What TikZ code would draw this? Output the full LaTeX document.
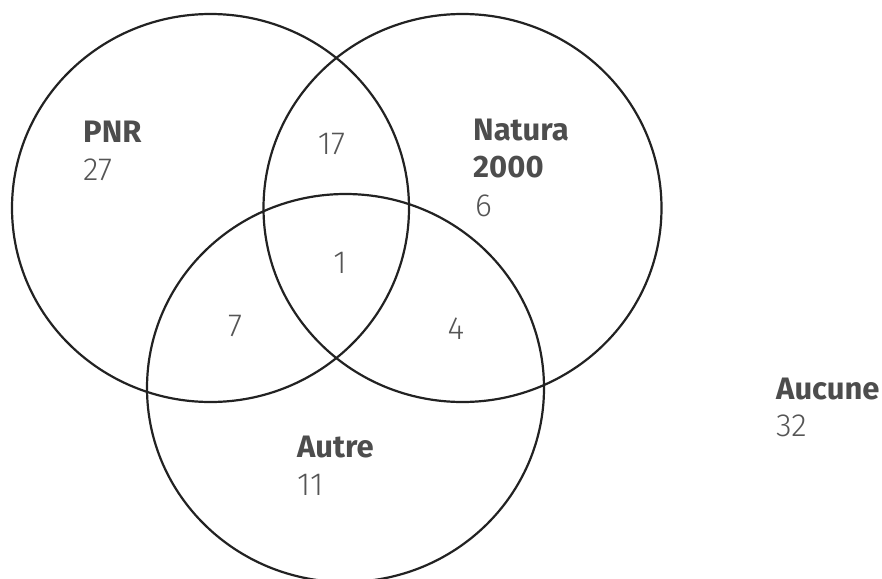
\documentclass[tikz,border=0pt]{standalone}
\usepackage{fontspec}
\setmainfont{Fira Sans}[UprightFont={* Light},BoldFont={* Bold}]
\usepackage{tikz}
\usetikzlibrary{positioning}
\definecolor{ink}{HTML}{222222}
\definecolor{txtgray}{HTML}{555555}
\definecolor{headgray}{HTML}{4D4D4D}
\tikzset{%
  venn/.style={draw=ink,line width=2.2pt},
  setname/.style={anchor=base west,inner sep=0pt,font=\fontsize{31}{38}\selectfont\bfseries,text=headgray},
  count/.style={anchor=base west,inner sep=0pt,font=\fontsize{32}{38}\selectfont,text=txtgray},
  inter/.style={anchor=base,inner sep=0pt,font=\fontsize{32}{38}\selectfont,text=txtgray},
}

\begin{document}
\begin{tikzpicture}[x=1pt,y=-1pt]
  \useasboundingbox (0,0) rectangle (882,578);

  \coordinate (pnrC) at (210.5,208);
  \coordinate (naturaC) at (462.5,208);
  \coordinate (autreC) at (345.5,388);

  \draw[venn] (pnrC) ellipse [x radius=198.5,y radius=194];
  \draw[venn] (naturaC) ellipse [x radius=199,y radius=194];
  \draw[venn] (autreC) ellipse [x radius=198.5,y radius=194];

  \node[setname] (pnr) at (83,142) {PNR};
  \node[count] (pnrN) at (83,180) {27};

  \node[setname] (natura) at (473,140) {Natura};
  \node[setname] (natura2) at (473,177) {2000};
  \node[count] (naturaN) at (475,216) {6};

  \node[setname] (autre) at (297,457) {Autre};
  \node[count] (autreN) at (297,495) {11};

  \node[setname] (aucune) at (776,399) {Aucune};
  \node[count] (aucuneN) at (776,436) {32};

  \node[inter] (pnrNatura) at (331.5,154) {17};
  \node[inter] (all) at (340,273) {1};
  \node[inter] (pnrAutre) at (235,336) {7};
  \node[inter] (naturaAutre) at (456,339) {4};
\end{tikzpicture}
\end{document}
